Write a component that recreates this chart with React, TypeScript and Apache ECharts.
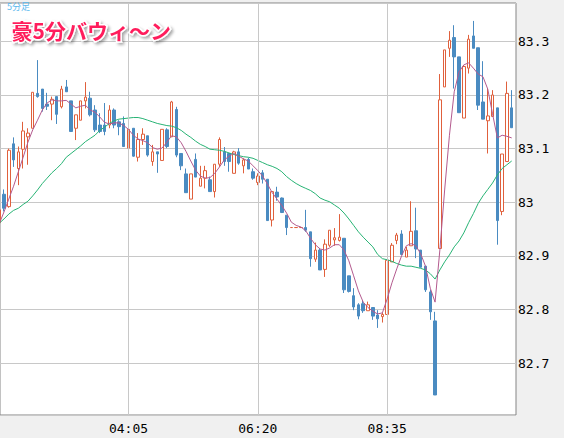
import React, { useEffect, useRef } from "react";
import * as echarts from "echarts";

// 5-minute bars, 01:50 .. 10:45
const categories = [
  "01:50", "01:55",
  "02:00", "02:05", "02:10", "02:15", "02:20", "02:25", "02:30", "02:35", "02:40", "02:45", "02:50", "02:55",
  "03:00", "03:05", "03:10", "03:15", "03:20", "03:25", "03:30", "03:35", "03:40", "03:45", "03:50", "03:55",
  "04:00", "04:05", "04:10", "04:15", "04:20", "04:25", "04:30", "04:35", "04:40", "04:45", "04:50", "04:55",
  "05:00", "05:05", "05:10", "05:15", "05:20", "05:25", "05:30", "05:35", "05:40", "05:45", "05:50", "05:55",
  "06:00", "06:05", "06:10", "06:15", "06:20", "06:25", "06:30", "06:35", "06:40", "06:45", "06:50", "06:55",
  "07:00", "07:05", "07:10", "07:15", "07:20", "07:25", "07:30", "07:35", "07:40", "07:45", "07:50", "07:55",
  "08:00", "08:05", "08:10", "08:15", "08:20", "08:25", "08:30", "08:35", "08:40", "08:45", "08:50", "08:55",
  "09:00", "09:05", "09:10", "09:15", "09:20", "09:25", "09:30", "09:35", "09:40", "09:45", "09:50", "09:55",
  "10:00", "10:05", "10:10", "10:15", "10:20", "10:25", "10:30", "10:35", "10:40", "10:45",
];

const xTickLabels = ["04:05", "06:20", "08:35"];

const opens = [
  82.962, 83.015, 82.992, 83.109, 83.063, 83.099, 83.122, 83.138, 83.203, 83.211,
  83.183, 83.183, 83.197, 83.178, 83.215, 83.189, 83.138, 83.153, 83.189, 83.194,
  83.172, 83.144, 83.144, 83.144, 83.172, 83.150, 83.147, 83.101, 83.138, 83.084,
  83.117, 83.124, 83.076, 83.094, 83.078, 83.135, 83.122, 83.173, 83.091, 83.053,
  83.006, 83.080, 83.030, 83.045, 83.042, 83.020, 83.071, 83.094, 83.091, 83.054,
  83.094, 83.068, 83.080, 83.057, 83.037, 83.055, 83.043, 82.967, 83.019, 83.008,
  82.976, 82.953, 82.953, 82.953, 82.953, 82.945, 82.894, 82.911, 82.875, 82.920,
  82.930, 82.929, 82.933, 82.863, 82.826, 82.809, 82.811, 82.798, 82.804, 82.790,
  82.787, 82.791, 82.889, 82.929, 82.941, 82.898, 82.919, 82.947, 82.911, 82.881,
  82.833, 82.779, 82.914, 83.215, 83.287, 83.307, 83.271, 83.157, 83.250, 83.310,
  83.288, 83.187, 83.152, 83.160, 83.176, 82.983, 83.076, 83.176,
];

const closes = [
  82.986, 82.989, 83.097, 83.079, 83.094, 83.133, 83.129, 83.205, 83.197, 83.175,
  83.179, 83.192, 83.164, 83.211, 83.206, 83.132, 83.163, 83.189, 83.196, 83.163,
  83.135, 83.132, 83.132, 83.172, 83.144, 83.141, 83.104, 83.136, 83.086, 83.117,
  83.127, 83.088, 83.094, 83.090, 83.136, 83.104, 83.187, 83.088, 83.068, 83.018,
  83.053, 83.047, 83.045, 83.059, 83.020, 83.071, 83.117, 83.076, 83.076, 83.094,
  83.073, 83.079, 83.062, 83.045, 83.049, 83.043, 82.966, 83.020, 83.010, 82.981,
  82.953, 82.953, 82.953, 82.953, 82.948, 82.895, 82.911, 82.874, 82.922, 82.948,
  82.934, 82.935, 82.837, 82.834, 82.805, 82.788, 82.798, 82.809, 82.788, 82.783,
  82.791, 82.892, 82.920, 82.939, 82.903, 82.911, 82.946, 82.913, 82.879, 82.837,
  82.796, 82.641, 83.191, 83.284, 83.302, 83.271, 83.167, 83.253, 83.304, 83.287,
  83.181, 83.155, 83.161, 83.200, 82.966, 83.090, 83.203, 83.139,
];

const lows = [
  82.958, 82.983, 82.990, 83.066, 83.032, 83.063, 83.070, 83.138, 83.195, 83.169,
  83.172, 83.153, 83.146, 83.175, 83.206, 83.132, 83.116, 83.153, 83.175, 83.160,
  83.131, 83.129, 83.125, 83.138, 83.138, 83.125, 83.104, 83.101, 83.085, 83.076,
  83.107, 83.085, 83.068, 83.055, 83.078, 83.101, 83.122, 83.084, 83.060, 83.018,
  83.006, 83.047, 83.030, 83.026, 83.020, 83.009, 83.066, 83.068, 83.057, 83.054,
  83.070, 83.054, 83.062, 83.042, 83.032, 83.035, 82.966, 82.955, 83.003, 82.980,
  82.939, 82.953, 82.953, 82.953, 82.945, 82.880, 82.889, 82.874, 82.861, 82.917,
  82.919, 82.927, 82.831, 82.832, 82.799, 82.782, 82.794, 82.798, 82.781, 82.766,
  82.776, 82.791, 82.889, 82.922, 82.902, 82.898, 82.919, 82.896, 82.879, 82.833,
  82.781, 82.641, 82.914, 83.215, 83.271, 83.212, 83.167, 83.157, 83.240, 83.287,
  83.172, 83.155, 83.091, 83.160, 82.921, 82.976, 83.076, 83.139,
];

const highs = [
  82.990, 83.024, 83.100, 83.121, 83.104, 83.150, 83.138, 83.205, 83.265, 83.211,
  83.204, 83.197, 83.197, 83.217, 83.228, 83.189, 83.163, 83.189, 83.224, 83.206,
  83.181, 83.166, 83.185, 83.181, 83.175, 83.153, 83.160, 83.148, 83.138, 83.129,
  83.138, 83.124, 83.107, 83.094, 83.136, 83.138, 83.189, 83.178, 83.091, 83.063,
  83.053, 83.091, 83.068, 83.068, 83.048, 83.071, 83.121, 83.103, 83.091, 83.096,
  83.101, 83.082, 83.083, 83.063, 83.054, 83.060, 83.043, 83.020, 83.029, 83.009,
  82.976, 82.953, 82.953, 82.953, 82.986, 82.945, 82.925, 82.915, 82.931, 82.948,
  82.952, 82.978, 82.933, 82.863, 82.840, 82.812, 82.818, 82.815, 82.804, 82.799,
  82.794, 82.892, 82.924, 82.943, 82.948, 82.917, 83.002, 82.990, 82.911, 82.881,
  82.837, 82.796, 83.239, 83.284, 83.319, 83.330, 83.271, 83.256, 83.312, 83.338,
  83.288, 83.263, 83.211, 83.209, 83.176, 83.090, 83.225, 83.209,
];

// short moving average (purple)
const maShort = [
  82.960, 82.982, 83.006, 83.030, 83.057, 83.084, 83.112, 83.135, 83.153, 83.172,
  83.185, 83.191, 83.189, 83.189, 83.190, 83.183, 83.176, 83.179, 83.181, 83.172,
  83.168, 83.159, 83.149, 83.146, 83.148, 83.148, 83.143, 83.136, 83.125, 83.118,
  83.115, 83.111, 83.102, 83.099, 83.101, 83.112, 83.124, 83.122, 83.111, 83.095,
  83.077, 83.060, 83.049, 83.045, 83.046, 83.054, 83.066, 83.079, 83.086, 83.091,
  83.086, 83.081, 83.077, 83.068, 83.059, 83.049, 83.034, 83.018, 83.006, 82.994,
  82.980, 82.963, 82.957, 82.954, 82.947, 82.933, 82.921, 82.913, 82.911, 82.915,
  82.921, 82.921, 82.911, 82.891, 82.863, 82.835, 82.814, 82.804, 82.797, 82.792,
  82.794, 82.820, 82.850, 82.876, 82.900, 82.919, 82.923, 82.919, 82.904, 82.881,
  82.840, 82.814, 82.911, 83.023, 83.125, 83.206, 83.243, 83.256, 83.260, 83.250,
  83.239, 83.234, 83.211, 83.165, 83.120, 83.125, 83.123, 83.120,
];

// long moving average (green)
const maLong = [
  82.961, 82.969, 82.978, 82.985, 82.989, 82.996, 83.002, 83.012, 83.023, 83.035,
  83.045, 83.055, 83.063, 83.072, 83.084, 83.091, 83.098, 83.105, 83.113, 83.119,
  83.125, 83.134, 83.140, 83.147, 83.152, 83.155, 83.156, 83.157, 83.158, 83.158,
  83.156, 83.153, 83.150, 83.147, 83.145, 83.143, 83.142, 83.139, 83.134, 83.127,
  83.121, 83.114, 83.108, 83.104, 83.099, 83.098, 83.097, 83.095, 83.092, 83.089,
  83.087, 83.085, 83.084, 83.082, 83.078, 83.074, 83.070, 83.067, 83.063, 83.057,
  83.048, 83.041, 83.035, 83.030, 83.026, 83.022, 83.016, 83.008, 83.004, 83.001,
  82.995, 82.989, 82.980, 82.969, 82.957, 82.945, 82.935, 82.926, 82.917, 82.903,
  82.895, 82.893, 82.890, 82.886, 82.883, 82.881, 82.881, 82.879, 82.877, 82.874,
  82.867, 82.857, 82.874, 82.889, 82.902, 82.917, 82.928, 82.943, 82.962, 82.979,
  82.998, 83.012, 83.024, 83.036, 83.051, 83.063, 83.070, 83.077,
];

const yMin = 82.6037;
const yMax = 83.3714;

const UP = "#e0603c";
const DOWN = "#4a8bc1";
const GRIDLINE = "#c8c8c8";
const MONO = '"DejaVu Sans Mono", "Liberation Mono", monospace';

export default function App() {
  const ref = useRef<HTMLDivElement>(null);

  useEffect(() => {
    if (!ref.current) return;
    const chart = echarts.init(ref.current, null, { renderer: "svg" });
    const candleData = opens.map((o, i) => [o, closes[i], lows[i], highs[i]]);

    const option: any = {
      animation: false,
      backgroundColor: "#f0f0f0",
      grid: [
        {
          left: 0, right: 48, top: 3, bottom: 23,
          show: true, backgroundColor: "#ffffff",
          borderColor: "#858585", borderWidth: 1,
          containLabel: false, outerBoundsMode: "none",
        },
        {
          left: -3.2, width: 517.3, top: 3, bottom: 23,
          show: false, containLabel: false, outerBoundsMode: "none",
        },
      ],
      xAxis: [
        { gridIndex: 0, type: "value", min: 0, max: 1, show: false },
        {
          gridIndex: 1, type: "category", data: categories, boundaryGap: true,
          axisLine: { show: false }, axisTick: { show: false }, splitLine: { show: false },
          axisLabel: {
            interval: (i: number) => xTickLabels.includes(categories[i]),
            color: "#000", fontFamily: MONO, fontSize: 13, margin: 7,
          },
        },
      ],
      yAxis: [
        {
          gridIndex: 0, type: "value", position: "right", min: yMin, max: yMax, splitNumber: 7,
          axisLine: { show: false }, axisTick: { show: false },
          splitLine: { show: true, lineStyle: { color: GRIDLINE, width: 1 } },
          axisLabel: {
            showMinLabel: false, showMaxLabel: false,
            color: "#000", fontFamily: MONO, fontSize: 13, margin: 2, align: "left",
            formatter: (v: number) => {
              const r = Math.round(v * 10) / 10;
              return Math.abs(v - r) < 1e-6 ? String(r) : "";
            },
          },
        },
        { gridIndex: 1, type: "value", min: yMin, max: yMax, show: false },
      ],
      graphic: [
        {
          type: "text", left: 7, top: 2, z: 100,
          style: { text: "5分足", fill: "#5ab8ee", font: '9px "Noto Sans CJK JP"' },
        },
        {
          type: "text", left: 10, top: 18, z: 100,
          style: {
            text: "豪5分バウィ〜ン",
            fill: "#ff1f5c",
            font: 'bold 21px "Noto Sans CJK JP"',
            stroke: "#ffffff",
            lineWidth: 3,
            textShadowColor: "rgba(0,0,0,0.35)",
            textShadowBlur: 3,
            textShadowOffsetX: 2,
            textShadowOffsetY: 2,
          },
        },
      ],
      series: [
        {
          type: "line", xAxisIndex: 1, yAxisIndex: 1, data: [], z: 1, silent: true,
          markLine: {
            silent: true, symbol: ["none", "none"], label: { show: false },
            lineStyle: { color: GRIDLINE, type: "solid", width: 1 },
            emphasis: { disabled: true },
            data: xTickLabels.map((t) => ({ xAxis: t })),
          },
        },
        {
          type: "candlestick", xAxisIndex: 1, yAxisIndex: 1, data: candleData, barWidth: 3, z: 3,
          itemStyle: {
            color: "#ffffff", color0: DOWN,
            borderColor: UP, borderColor0: DOWN, borderColorDoji: UP, borderWidth: 1,
          },
        },
        {
          type: "line", xAxisIndex: 1, yAxisIndex: 1, data: maLong, symbol: "none", z: 4,
          lineStyle: { color: "#27b374", width: 1 },
        },
        {
          type: "line", xAxisIndex: 1, yAxisIndex: 1, data: maShort, symbol: "none", z: 5,
          lineStyle: { color: "#b35a8e", width: 1 },
        },
      ],
    };
    chart.setOption(option);
    return () => chart.dispose();
  }, []);

  return (
    <div
      ref={ref}
      style={{ position: "fixed", left: 0, top: 0, width: 564, height: 438, background: "#f0f0f0" }}
    />
  );
}
